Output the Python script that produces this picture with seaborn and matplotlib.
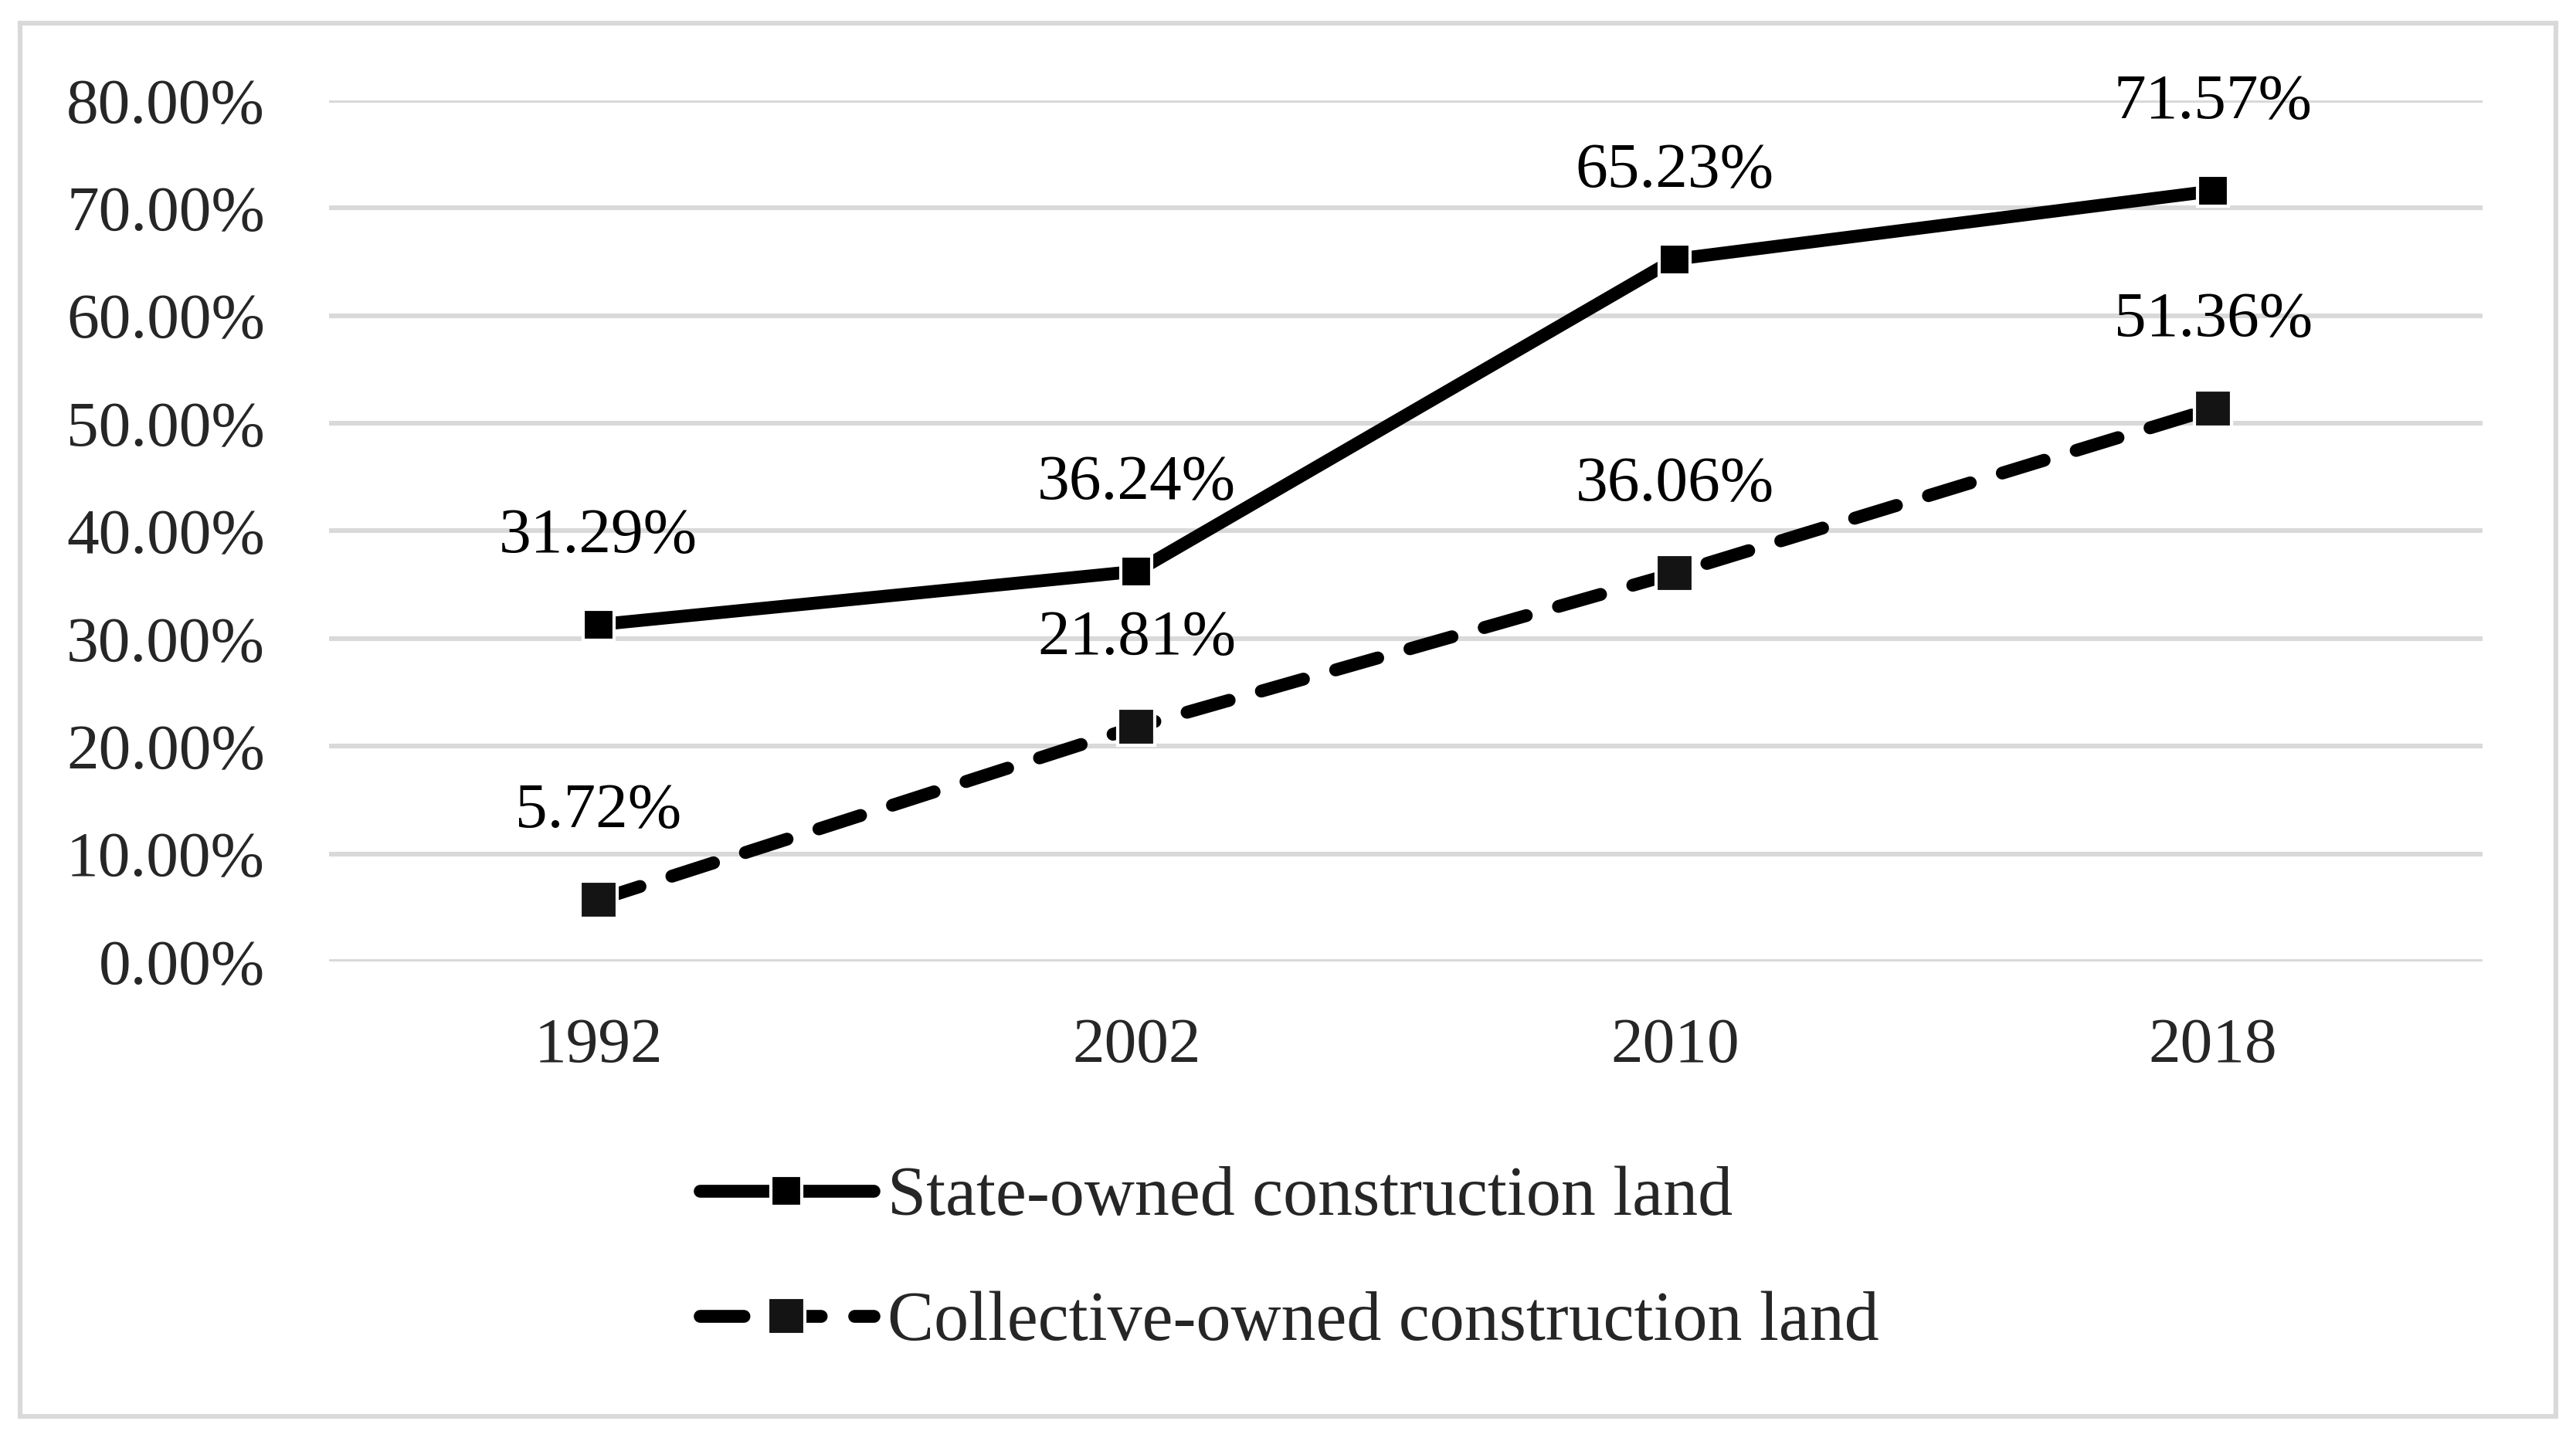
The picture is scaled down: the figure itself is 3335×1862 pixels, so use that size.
import matplotlib
matplotlib.use("Agg")
import matplotlib.pyplot as plt
from matplotlib.patches import Rectangle
from matplotlib.lines import Line2D
import seaborn as sns
import pandas as pd

years = ["1992", "2002", "2010", "2018"]
state_owned = [0.3129, 0.3624, 0.6523, 0.7157]
collective_owned = [0.0572, 0.2181, 0.3606, 0.5136]
series_names = ["State-owned construction land", "Collective-owned construction land"]
y_ticks = [0.0, 0.1, 0.2, 0.3, 0.4, 0.5, 0.6, 0.7, 0.8]

sns.set_theme(style="white")
plt.rcParams["font.family"] = ["Liberation Serif", "DejaVu Serif"]

df = pd.DataFrame({"pos": list(range(len(years))), "year": years,
                   "state": state_owned, "collective": collective_owned})

fig = plt.figure(figsize=(16.675, 9.31), dpi=200)
ax = fig.add_axes([0.1278, 0.3314, 0.9636 - 0.1278, 0.9303 - 0.3314])

FS = 30
LW = 6.0
dash_style = (0, (3.4, 2.6))

sns.lineplot(data=df, x="pos", y="state", ax=ax, color="black", lw=LW,
             marker="s", markersize=14.5, markeredgecolor="white",
             markeredgewidth=1.5, markerfacecolor="black", zorder=4)
sns.lineplot(data=df, x="pos", y="collective", ax=ax, color="black", lw=LW,
             linestyle=dash_style, dash_capstyle="round",
             marker="s", markersize=17, markeredgecolor="white",
             markeredgewidth=1.5, markerfacecolor="#141414", zorder=4)

for i, v in enumerate(state_owned):
    ax.annotate(f"{v*100:.2f}%", (df["pos"][i], v), xytext=(0, 41),
                textcoords="offset points", ha="center", va="center",
                fontsize=FS, color="black", zorder=6)
for i, v in enumerate(collective_owned):
    ax.annotate(f"{v*100:.2f}%", (df["pos"][i], v), xytext=(0, 41),
                textcoords="offset points", ha="center", va="center",
                fontsize=FS, color="black", zorder=6)

ax.set_xlim(-0.5, len(years) - 0.5)
ax.set_ylim(0, 0.8)
ax.set_yticks(y_ticks)
ax.set_yticklabels([f"{t*100:.2f}%" for t in y_ticks], fontsize=FS)
ax.set_xticks(df["pos"])
ax.set_xticklabels(years, fontsize=FS)
ax.tick_params(axis="y", length=0, pad=30)
ax.tick_params(axis="x", length=0, pad=26)
ax.set_xlabel("")
ax.set_ylabel("")
ax.grid(axis="y", color="#d9d9d9", lw=2.2, zorder=0)
ax.grid(axis="x", visible=False)
for s in ax.spines.values():
    s.set_visible(False)
ax.set_facecolor("white")
ax.set_axisbelow(True)

h1 = Line2D([], [], color="black", lw=LW, marker="s", markersize=14.5,
            markeredgecolor="white", markeredgewidth=1.5, markerfacecolor="black")
h2 = Line2D([], [], color="black", lw=LW, linestyle=dash_style,
            dash_capstyle="round", marker="s", markersize=17,
            markeredgecolor="white", markeredgewidth=1.5, markerfacecolor="#141414")
fig.legend([h1, h2], series_names, loc="center left",
           bbox_to_anchor=(0.2716, 0.1235), frameon=False, fontsize=32.4,
           handlelength=2.5, handletextpad=0.2, labelspacing=0.88,
           borderpad=0, borderaxespad=0, numpoints=1)

fig.patches.append(Rectangle((0.0077, 0.0149), 0.9846, 0.969,
                             transform=fig.transFigure, fill=False,
                             edgecolor="#d9d9d9", lw=2.2))

fig.savefig("out.png", dpi=200, facecolor="white")
